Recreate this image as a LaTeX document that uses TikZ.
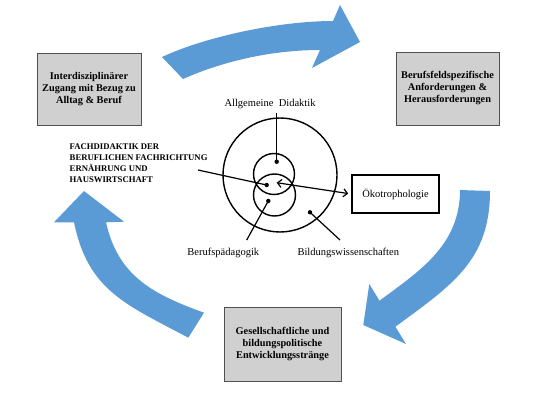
\documentclass[tikz,border=0pt]{standalone}
\usepackage{fontspec}
\setmainfont{Liberation Serif}
\usetikzlibrary{arrows.meta}
\definecolor{arrblue}{HTML}{5B9BD5}
\definecolor{boxgray}{HTML}{D0D0D0}
\definecolor{boxline}{HTML}{505050}
\tikzset{
  graybox/.style={draw=boxline, line width=0.9pt, fill=boxgray, align=center, inner sep=0pt,
    font=\bfseries\fontsize{10.3}{12}\selectfont},
  whitebox/.style={draw=black, line width=1.6pt, fill=white, inner sep=0pt,
    font=\fontsize{10.5}{12}\selectfont},
  lbl/.style={inner sep=0pt, font=\fontsize{10.5}{12}\selectfont},
  conn/.style={draw=black, line width=1.2pt},
  circ/.style={draw=black, line width=1.4pt},
  dotstyle/.style={fill=black},
  bluearrow/.style={fill=arrblue}
}
\begin{document}
\begin{tikzpicture}[x=1pt,y=-1pt]
\useasboundingbox (0,0) rectangle (560,420);
% curved blue arrows
\fill[bluearrow] (162,57) .. controls (207.3,35.9) and (281,21) .. (333,21) -- (340,5) -- (360,42) -- (312,68) -- (320,50) .. controls (273,50) and (224.1,60.7) .. (183,79) -- cycle;
\fill[bluearrow] (490,191) .. controls (490,260) and (452.7,284.7) .. (395.4,326.7) -- (406,344) -- (363.3,325) -- (369.3,284) -- (379.5,300.7) .. controls (420,270.7) and (460,245) .. (460,190) -- cycle;
\fill[bluearrow] (188.3,337.7) .. controls (126.7,304.8) and (88,290.9) .. (74,222.3) -- (54,222.3) -- (84,191) -- (124,221.7) -- (106,222.3) .. controls (118.1,275.9) and (152.3,294) .. (204,312.7) -- cycle;
% boxes
\node[graybox, minimum width=104pt, minimum height=72pt] (box1) at (89,89) {Interdisziplinärer\\Zugang mit Bezug zu\\Alltag \& Beruf};
\node[graybox, minimum width=103pt, minimum height=73pt] (box2) at (447.5,88.5) {Berufsfeldspezifische\\Anforderungen \&\\Herausforderungen};
\node[graybox, minimum width=117pt, minimum height=74pt] (box3) at (282.5,344.5) {Gesellschaftliche und\\bildungspolitische\\Entwicklungsstränge};
\node[whitebox, minimum width=87pt, minimum height=38pt] (oeko) at (395.5,194) {Ökotrophologie};
% circles
\draw[circ] (280,175) circle[radius=57pt];
\draw[circ] (274,174) circle[radius=20.5pt];
\draw[circ] (274.5,195) circle[radius=21pt];
% dots
\coordinate (dotA) at (276.7,161.7);
\coordinate (dotF) at (266.7,185);
\coordinate (dotB) at (268.3,201);
\coordinate (dotW) at (310,212.3);
\foreach \d in {dotA,dotF,dotB,dotW} \fill[dotstyle] (\d) circle[radius=2.2pt];
% labels
\node[lbl] (adlabel) at (270,104) {Allgemeine\ \ Didaktik};
\node[lbl] (bplabel) at (223.3,253.3) {Berufspädagogik};
\node[lbl] (bwlabel) at (348.3,253.3) {Bildungswissenschaften};
\node[inner sep=0pt, anchor=west, align=left, font=\bfseries\fontsize{8.7}{11}\selectfont] (fdlabel) at (69.5,163) {FACHDIDAKTIK DER\\BERUFLICHEN FACHRICHTUNG\\ERNÄHRUNG UND\\HAUSWIRTSCHAFT};
% connector end points
\coordinate (adtop) at (276.7,113);
\coordinate (fdend) at (198,170);
\coordinate (arrS) at (276.7,182.7);
\coordinate (bpend) at (246.7,240);
\coordinate (bwend) at (340,240);
% connectors
\draw[conn] (adtop) -- (dotA);
\draw[conn] (fdend) -- (dotF);
\draw[conn, {Straight Barb[length=4pt,width=8pt]}-{Straight Barb[length=4pt,width=8pt]}, shorten >=3pt] (arrS) -- (oeko.west);
\draw[conn] (dotB) -- (bpend);
\draw[conn] (dotW) -- (bwend);
\end{tikzpicture}
\end{document}
